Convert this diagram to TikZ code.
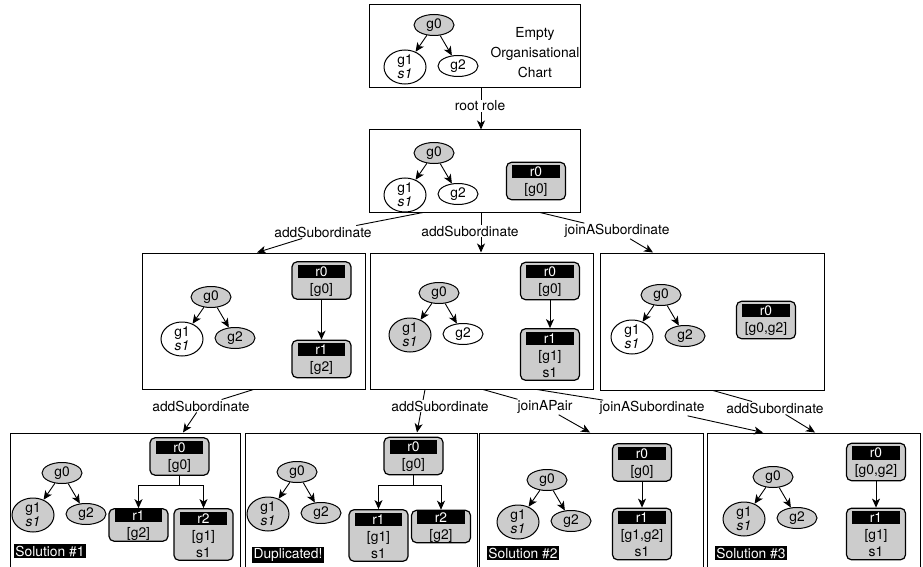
\documentclass[tikz,border=0pt]{standalone}
\usepackage{fontspec}
\setmainfont{TeX Gyre Heros}
\usetikzlibrary{arrows.meta, shapes.geometric}
\definecolor{rolegray}{RGB}{204,204,204}
\newcommand{\rolebar}[1]{{\setlength{\fboxsep}{1.6pt}\colorbox{black}{\makebox[44pt]{\color{white}#1}}}}

\begin{document}
\begin{tikzpicture}[
  x=1pt, y=-1pt,
  font=\fontsize{13.8}{16}\selectfont,
  frame/.style={draw, line width=1pt, inner sep=0pt},
  gnode/.style={draw, ellipse, line width=1pt, inner sep=0pt, minimum width=40pt, minimum height=21pt},
  gtall/.style={gnode, minimum width=42pt, minimum height=34pt, align=center},
  role/.style={draw, line width=1.2pt, rounded corners=5pt, fill=rolegray, align=center, inner sep=3pt, minimum width=59pt, font=\fontsize{13.8}{17}\selectfont},
  short/.style={inner ysep=0.5pt},
  lab/.style={inner sep=1pt},
  tag/.style={fill=black, text=white, inner sep=1.5pt},
  conn/.style={-{Stealth[length=9pt, width=8pt, inset=2.5pt]}, line width=0.9pt},
]
\useasboundingbox (0,0) rectangle (923,567);

% frames
\node[frame, minimum width=211pt, minimum height=83pt] (Tf) at (474.5,46.5) {};
\node[frame, minimum width=211pt, minimum height=82pt] (Rf) at (474.5,171) {};
\node[frame, minimum width=223pt, minimum height=136pt] (Af) at (253.5,321) {};
\node[frame, minimum width=223pt, minimum height=136pt] (Bf) at (481.5,321) {};
\node[frame, minimum width=224pt, minimum height=137pt] (Cf) at (712,321.5) {};
\node[frame, minimum width=230pt, minimum height=137pt] (Df) at (125,501.5) {};
\node[frame, minimum width=232pt, minimum height=137pt] (Ef) at (361,501.5) {};
\node[frame, minimum width=224pt, minimum height=137pt] (Ff) at (591,501.5) {};
\node[frame, minimum width=213pt, minimum height=137pt] (Gf) at (813.5,501.5) {};

\node[align=center, font=\fontsize{13.8}{20}\selectfont] (Tnote) at (535,53) {Empty\\Organisational\\Chart};

% goal trees
\foreach \bx/\x/\y/\fa/\fb in {T/434/25/white/white, R/434/153/white/white,
    A/211/297/white/rolegray, B/439/293/rolegray/white, C/661/295/white/rolegray,
    D/62/473/rolegray/rolegray, E/297/472/rolegray/rolegray,
    F/547/480/rolegray/rolegray, G/773/477/rolegray/rolegray}{
  \node[gnode, fill=rolegray] (\bx g0) at (\x,\y) {g0};
  \node[gtall, fill=\fa] (\bx g1) at (\x-29,\y+42) {g1\\[-2pt]\textit{s1}};
  \node[gnode, fill=\fb] (\bx g2) at (\x+24,\y+41) {g2};
  \draw[conn] (\bx g0) -- (\bx g1);
  \draw[conn] (\bx g0) -- (\bx g2);
}

% roles
\node[role] (Rr0) at (536,181) {\rolebar{r0}\\{[g0]}};
\node[role] (Ar0) at (321.5,280.5) {\rolebar{r0}\\{[g0]}};
\node[role] (Ar1) at (321.5,359) {\rolebar{r1}\\{[g2]}};
\node[role] (Br0) at (550,281) {\rolebar{r0}\\{[g0]}};
\node[role] (Br1) at (550,354.5) {\rolebar{r1}\\{[g1]}\\s1};
\node[role] (Cr0) at (766,320) {\rolebar{r0}\\{[g0,g2]}};
\node[role] (Dr0) at (179.5,456.5) {\rolebar{r0}\\{[g0]}};
\node[role, short] (Dr1) at (138.5,525) {\rolebar{r1}\\{[g2]}};
\node[role] (Dr2) at (203.5,534.5) {\rolebar{r2}\\{[g1]}\\s1};
\node[role] (Er0) at (413.5,456) {\rolebar{r0}\\{[g0]}};
\node[role] (Er1) at (378.5,535.5) {\rolebar{r1}\\{[g1]}\\s1};
\node[role, short] (Er2) at (441,526.5) {\rolebar{r2}\\{[g2]}};
\node[role] (Fr0) at (642,462.5) {\rolebar{r0}\\{[g0]}};
\node[role] (Fr1) at (642,534) {\rolebar{r1}\\{[g1,g2]}\\s1};
\node[role] (Gr0) at (876,462) {\rolebar{r0}\\{[g0,g2]}};
\node[role] (Gr1) at (876,534) {\rolebar{r1}\\{[g1]}\\s1};

\draw[conn] (Ar0) -- (Ar1);
\draw[conn] (Br0) -- (Br1);
\draw[conn] (Fr0) -- (Fr1);
\draw[conn] (Gr0) -- (Gr1);
\draw[conn] (Dr0.south) -- ++(0,10) -| (Dr1.north);
\draw[conn] (Dr0.south) -- ++(0,10) -| (Dr2.north);
\draw[conn] (Er0.south) -- ++(0,10) -| (Er1.north);
\draw[conn] (Er0.south) -- ++(0,10) -| (Er2.north);

\node[tag] (Dtag) at (50,551) {Solution \#1};
\node[tag] (Etag) at (288,555) {Duplicated!};
\node[tag] (Ftag) at (523,553) {Solution \#2};
\node[tag] (Gtag) at (751,553) {Solution \#3};

% transitions
\draw[conn] ([xshift=6.5]Tf.south) -- ([xshift=6.5]Rf.north);
\node[lab, fill=white] (rootlab) at (480,106) {root role};

\node[lab] (Alab) at (323,232) {addSubordinate};
\draw[conn] ([xshift=-51.5]Rf.south) -- (Alab) -- ([xshift=3.5]Af.north);
\draw[conn] ([xshift=6.5]Rf.south) -- ([xshift=-0.5]Bf.north);
\node[lab, fill=white] (Blab) at (470,231) {addSubordinate};
\node[lab] (Clab) at (617,231) {joinASubordinate};
\draw[conn] ([xshift=65.5]Rf.south) -- (Clab) -- ([xshift=-59]Cf.north);

\node[lab] (Dlab) at (201,406) {addSubordinate};
\draw[conn] (Af.south) -- (Dlab) -- ([xshift=58]Df.north);
\draw[conn] ([xshift=-56.5]Bf.south) -- ([xshift=56]Ef.north);
\node[lab, fill=white] (Elab) at (440,406) {addSubordinate};
\node[lab] (Flab) at (545,407) {joinAPair};
\draw[conn] ([xshift=1.5]Bf.south) -- (Flab) -- ([xshift=-1]Ff.north);
\node[lab] (Glab) at (652,408) {joinASubordinate};
\draw[conn] ([xshift=55.5]Bf.south) -- (Glab) -- ([xshift=-50.5]Gf.north);
\node[lab] (Hlab) at (775,408) {addSubordinate};
\draw[conn] ([xshift=1]Cf.south) -- (Hlab) -- ([xshift=1.5]Gf.north);
\end{tikzpicture}
\end{document}
